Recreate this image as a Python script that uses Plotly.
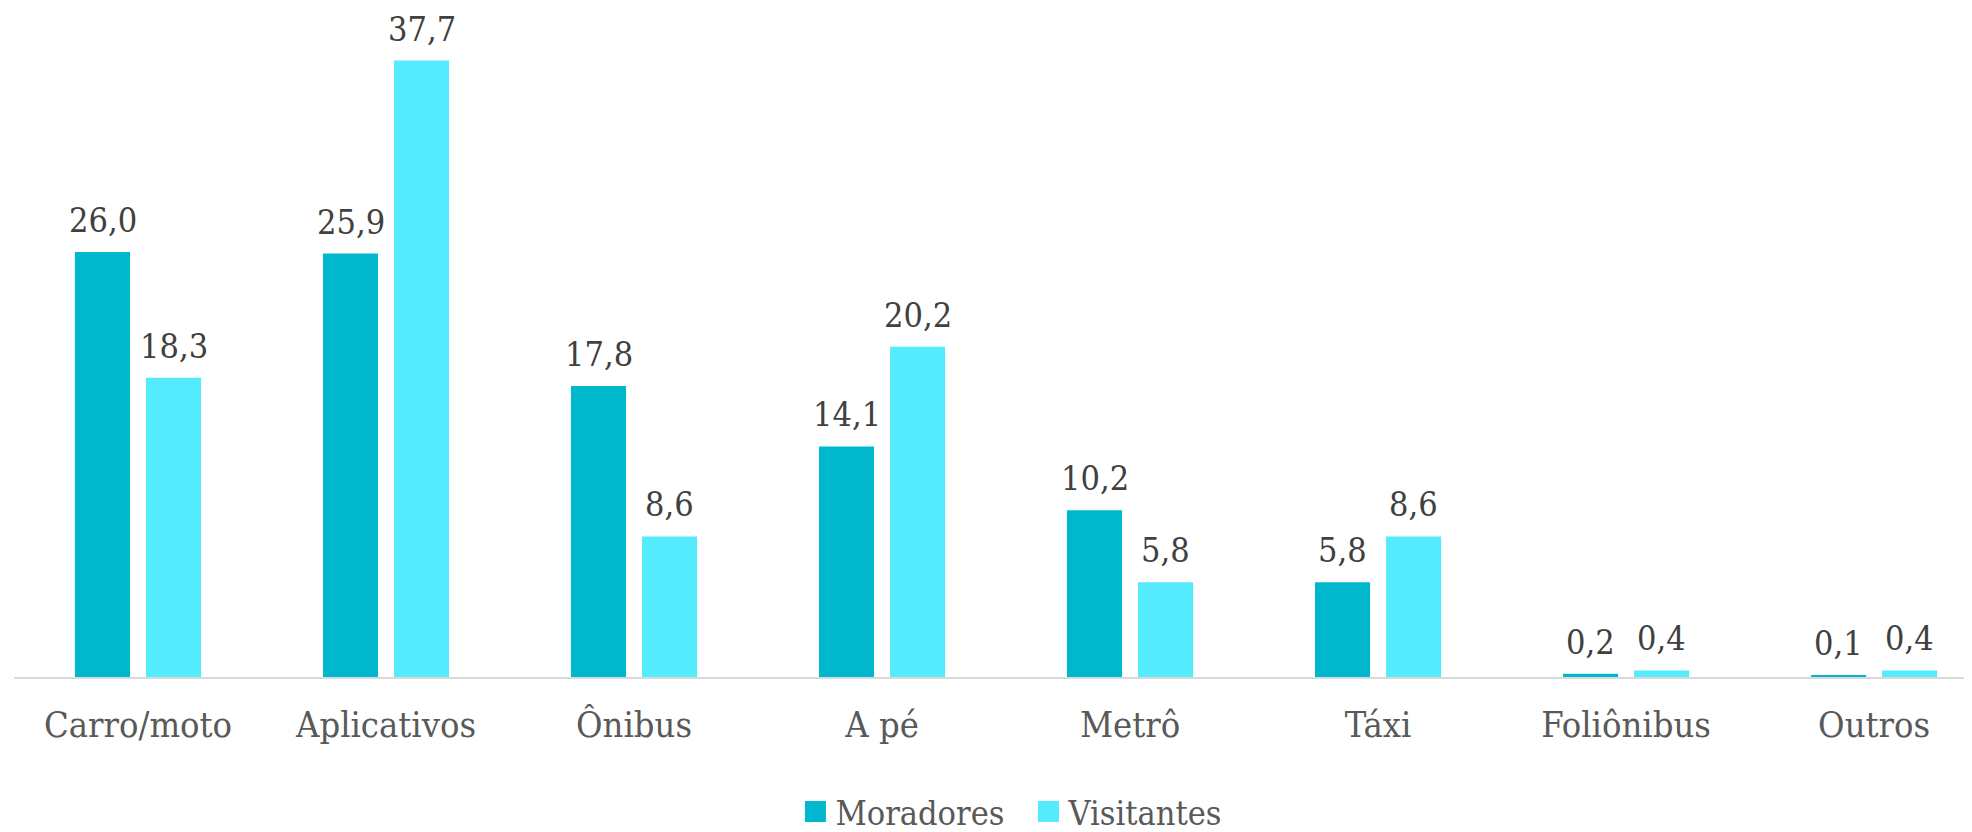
import plotly.graph_objects as go

categories = ["Carro/moto", "Aplicativos", "Ônibus", "A pé", "Metrô", "Táxi", "Foliônibus", "Outros"]
moradores = [26.0, 25.9, 17.8, 14.1, 10.2, 5.8, 0.2, 0.1]
visitantes = [18.3, 37.7, 8.6, 20.2, 5.8, 8.6, 0.4, 0.4]
series_names = ["Moradores", "Visitantes"]
colors = ["#00B7CD", "#55EBFF"]

FONT = "DejaVu Serif Condensed, DejaVu Serif, serif"
SLOT_PX = 71  # horizontal distance between the two bars of a group

fig = go.Figure()
series = [moradores, visitantes]
for k, (name, vals, col) in enumerate(zip(series_names, series, colors)):
    fig.add_trace(go.Bar(
        x=categories, y=vals, name=name, marker=dict(color=col, line=dict(width=0)),
        showlegend=False,
    ))
    fig.add_trace(go.Scatter(
        x=[None], y=[None], mode="markers", name=name,
        marker=dict(symbol="square", size=16, color=col, line=dict(color=col, width=5)),
        showlegend=True,
    ))
    for c, v in zip(categories, vals):
        fig.add_annotation(
            x=c, y=v, text=f"{v:.1f}".replace(".", ","), showarrow=False,
            xanchor="center", yanchor="bottom", xshift=(k - 0.5) * SLOT_PX, yshift=10,
            font=dict(family=FONT, size=34, color="#404040"),
        )

fig.update_layout(
    width=1972, height=832,
    margin=dict(l=6, r=0, t=15, b=163),
    paper_bgcolor="white", plot_bgcolor="white",
    separators=",.",
    barmode="group", bargap=0.427, bargroupgap=0.225,
    font=dict(family=FONT, color="#595959"),
    xaxis=dict(range=[-0.5, 7.427], showline=True, linecolor="#D9D9D9", linewidth=2,
               showgrid=False, zeroline=False, ticks="", ticklabelstandoff=15,
               tickfont=dict(family=FONT, size=36, color="#595959")),
    yaxis=dict(range=[0, 40], visible=False, showgrid=False, zeroline=False),
    legend=dict(orientation="h", x=0.516, xanchor="center",
                yref="container", y=0.0337, yanchor="middle",
                font=dict(family=FONT, size=34, color="#595959"),
                itemwidth=30, tracegroupgap=0, entrywidth=188),
)

fig.write_html("out.html")
